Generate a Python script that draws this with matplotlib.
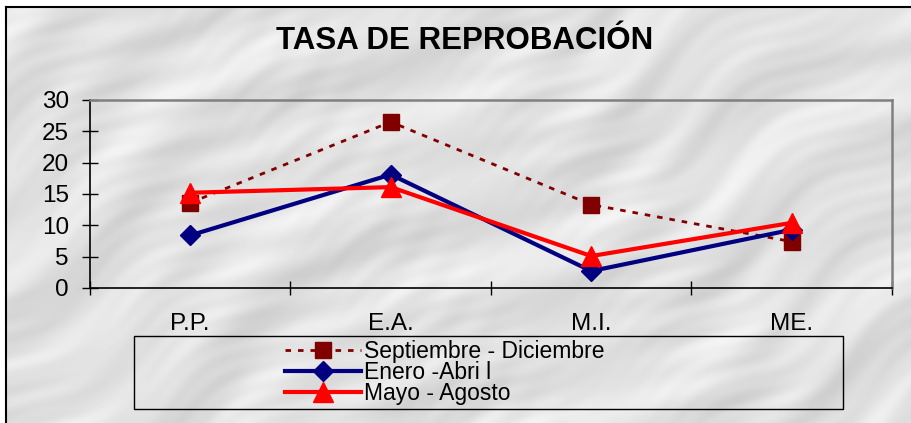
import numpy as np
import matplotlib
matplotlib.use("Agg")
import matplotlib.pyplot as plt
from matplotlib.patches import Rectangle

plt.rcParams['font.family'] = ['Liberation Sans', 'DejaVu Sans']

categories = ['P.P.', 'E.A.', 'M.I.', 'ME.']
sep_dic = [13.6, 26.5, 13.3, 7.4]
ene_abr = [8.4, 18.1, 2.7, 9.3]
may_ago = [15.2, 16.1, 5.1, 10.4]
labels = ['Septiembre - Diciembre', 'Enero -Abri l', 'Mayo - Agosto']
title = 'TASA DE REPROBACIÓN'

W, H = 912, 423
fig = plt.figure(figsize=(W / 100, H / 100), dpi=100)
fig.patch.set_facecolor('white')

# fondo tipo marmol (solo decorativo)
bg = fig.add_axes([0, 0, 1, 1], zorder=-10)
yy, xx = np.mgrid[0:H, 0:W].astype(float)
a = np.deg2rad(32)
u = xx * np.cos(a) - yy * np.sin(a)
v = xx * np.sin(a) + yy * np.cos(a)
tex = (0.88
       + 0.03 * np.sin(0.07 * v + 2.4 * np.sin(0.013 * u))
       + 0.025 * np.sin(0.16 * v + 3.1 * np.sin(0.021 * u + 1.3)) * np.sin(0.009 * u + 0.5)
       + 0.02 * np.sin(0.04 * v + 1.2 * np.sin(0.007 * u + 0.4))
       + 0.012 * np.sin(0.33 * v + 4.0 * np.sin(0.031 * u + 2.1)) * np.cos(0.015 * u))
tex = np.clip(tex, 0.74, 0.97)
img = np.ones((H, W))
img[7:, 6:] = tex[7:, 6:]
bg.imshow(img, cmap='gray', vmin=0, vmax=1, extent=(0, W, H, 0), aspect='auto', interpolation='bilinear')
bg.plot([6, 6], [H, 7], color='black', lw=1.5)
bg.plot([6, W], [7, 7], color='black', lw=1.5)
bg.add_patch(Rectangle((134, 336), 709, 73, fill=False, edgecolor='black', lw=1))
bg.set_xlim(0, W)
bg.set_ylim(H, 0)
bg.axis('off')

ax = fig.add_axes([90 / W, 1 - 288 / H, 802 / W, 188 / H])
ax.patch.set_alpha(0)
x = np.arange(len(categories))

l1, = ax.plot(x, sep_dic, color='#800000', lw=2, linestyle=(0, (2, 2.5)),
              marker='s', markersize=11, label=labels[0])
l2, = ax.plot(x, ene_abr, color='#000080', lw=3, marker='D', markersize=10, label=labels[1])
l3, = ax.plot(x, may_ago, color='#FF0000', lw=3, marker='^', markersize=14, label=labels[2])

ax.set_xlim(-0.5, len(categories) - 0.5)
ax.set_ylim(0, 30)
ax.set_yticks(range(0, 31, 5))
ax.set_xticks(x)
ax.set_xticklabels(categories)
ax.set_xticks(np.arange(-0.5, len(categories), 1), minor=True)
ax.tick_params(axis='y', direction='inout', length=11.5, width=1, pad=9.5, labelsize=17.5)
ax.tick_params(axis='x', which='major', length=0, pad=18, labelsize=17.5)
ax.tick_params(axis='x', which='minor', direction='inout', length=10, width=1)

for s in ['left', 'bottom']:
    ax.spines[s].set_color('black')
    ax.spines[s].set_linewidth(1.2)
for s in ['top', 'right']:
    ax.spines[s].set_color('#808080')
    ax.spines[s].set_linewidth(1.8)

fig.text(465 / W, 1 - 41 / H, title, ha='center', va='center', fontsize=22.5, fontweight='bold')

fig.legend([l1, l2, l3], labels, loc='center left', bbox_to_anchor=(285 / W, 1 - 372.5 / H),
           frameon=False, borderpad=0, borderaxespad=0, handlelength=3.33,
           handletextpad=0.1, labelspacing=-0.1, fontsize=16.5)

fig.savefig('out.png', dpi=100)
